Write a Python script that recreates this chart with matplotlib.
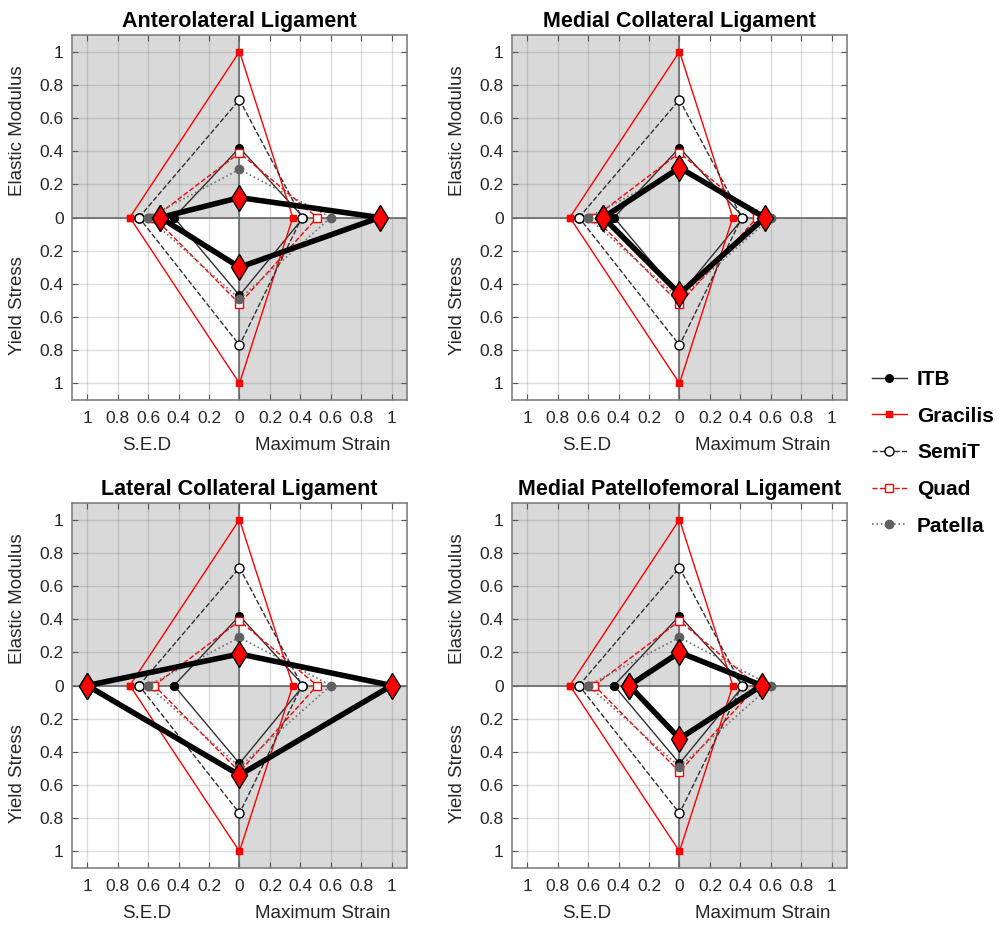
import numpy as np
import matplotlib.pyplot as plt
from matplotlib.ticker import FuncFormatter

plt.rcParams['font.family'] = ['Liberation Sans', 'DejaVu Sans']

# ligament properties (normalised): S.E.D, Elastic Modulus, Maximum Strain, Yield Stress
ligaments = ['Anterolateral Ligament', 'Medial Collateral Ligament',
             'Lateral Collateral Ligament', 'Medial Patellofemoral Ligament']
lig_sed = [0.52, 0.50, 1.00, 0.33]
lig_em = [0.12, 0.30, 0.19, 0.20]
lig_strain = [0.92, 0.56, 1.00, 0.54]
lig_ys = [0.30, 0.46, 0.54, 0.32]

# graft properties (same in every panel)
grafts = ['ITB', 'Gracilis', 'SemiT', 'Quad', 'Patella']
graft_sed = [0.43, 0.72, 0.66, 0.56, 0.60]
graft_em = [0.42, 1.00, 0.71, 0.39, 0.29]
graft_strain = [0.42, 0.35, 0.41, 0.51, 0.60]
graft_ys = [0.47, 1.00, 0.77, 0.52, 0.49]

styles = {
    'ITB':      dict(color='#303030', ls='-',  marker='o', mfc='black', mec='black', ms=5.5, lw=1.0),
    'Gracilis': dict(color='#ff0000', ls='-',  marker='s', mfc='#ff0000', mec='#ff0000', ms=5, lw=1.0),
    'SemiT':    dict(color='#303030', ls='--', marker='o', mfc='white', mec='black', ms=6.5, lw=1.0),
    'Quad':     dict(color='#ff0000', ls='--', marker='s', mfc='white', mec='#ff0000', ms=5.5, lw=1.0),
    'Patella':  dict(color='#707070', ls=':',  marker='o', mfc='#606060', mec='#606060', ms=6, lw=1.2),
}

fig = plt.figure(figsize=(10.04, 9.26), dpi=100)
W, H = 1004, 926
boxes = [(72, 35), (512, 35), (72, 503), (512, 503)]  # left, top in px
aw, ah = 335, 365

shade = '#d9d9d9'
txt = '#262626'
fmt = FuncFormatter(lambda v, p: '%g' % abs(round(v, 2)))
ticks = np.round(np.arange(-1, 1.01, 0.2), 2)

for k, name in enumerate(ligaments):
    l, t = boxes[k]
    ax = fig.add_axes([l / W, 1 - (t + ah) / H, aw / W, ah / H])
    ax.set_xlim(-1.1, 1.1)
    ax.set_ylim(-1.1, 1.1)
    ax.fill_between([-1.1, 0], 0, 1.1, color=shade, lw=0, zorder=0)
    ax.fill_between([0, 1.1], -1.1, 0, color=shade, lw=0, zorder=0)
    ax.set_axisbelow(True)
    ax.grid(True, color=(0.15, 0.15, 0.15), alpha=0.15, lw=1)
    ax.axhline(0, color='#666666', lw=1.2, zorder=1)
    ax.axvline(0, color='#666666', lw=1.2, zorder=1)
    ax.set_xticks(ticks)
    ax.set_yticks(ticks)
    ax.xaxis.set_major_formatter(fmt)
    ax.yaxis.set_major_formatter(fmt)
    ax.tick_params(direction='in', length=4, width=0.8, color='#555555',
                   labelcolor=txt, labelsize=12.5, top=True, right=True)
    ax.tick_params(axis='x', pad=8)
    ax.tick_params(axis='y', pad=6)
    for s in ax.spines.values():
        s.set_color('#808080')
        s.set_linewidth(1.2)

    for g, sed, em, st, ys in zip(grafts, graft_sed, graft_em, graft_strain, graft_ys):
        xs = [-sed, 0, st, 0, -sed]
        yv = [0, em, 0, -ys, 0]
        ax.plot(xs, yv, label=g, zorder=3, **styles[g])

    xs = [-lig_sed[k], 0, lig_strain[k], 0, -lig_sed[k]]
    yv = [0, lig_em[k], 0, -lig_ys[k], 0]
    ax.plot(xs, yv, color='black', lw=4, marker='d', ms=13.5, mfc='#ff0000',
            mec='black', mew=1.0, zorder=5, clip_on=False)

    ax.set_title(name, fontsize=15.5, fontweight='bold', color='black', pad=6)
    ax.text(-0.164, 0.737, 'Elastic Modulus', transform=ax.transAxes, rotation=90,
            ha='center', va='center', fontsize=13.5, color=txt)
    ax.text(-0.164, 0.26, 'Yield Stress', transform=ax.transAxes, rotation=90,
            ha='center', va='center', fontsize=13.5, color=txt)
    ax.text(0.224, -0.126, 'S.E.D', transform=ax.transAxes,
            ha='center', va='center', fontsize=13.5, color=txt)
    ax.text(0.75, -0.126, 'Maximum Strain', transform=ax.transAxes,
            ha='center', va='center', fontsize=13.5, color=txt)

    if k == 0:
        handles, labels = ax.get_legend_handles_labels()

leg = fig.legend(handles, labels, loc='center left', bbox_to_anchor=(0.85, 0.511),
                 frameon=False, prop=dict(weight='bold', size=15), handlelength=1.65,
                 labelspacing=0.85, handletextpad=0.5)

fig.savefig('out.png', dpi=100)
